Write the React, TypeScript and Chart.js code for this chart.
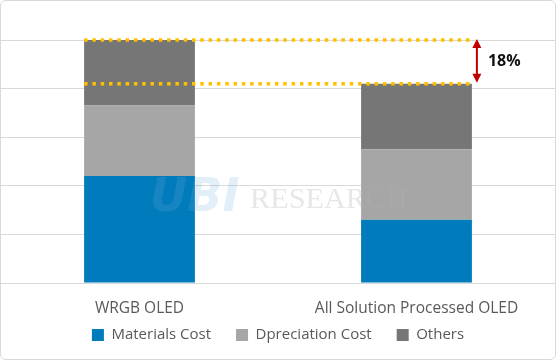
import React, { useEffect, useRef } from "react";
import { Chart, registerables } from "chart.js";

Chart.register(...registerables);

const categories = ["WRGB OLED", "All Solution Processed OLED"];
const seriesNames = ["Materials Cost", "Dpreciation Cost", "Others"];
const materialsCost = [44, 26];
const depreciationCost = [29, 29];
const others = [27, 27];
const reductionLabel = "18%";
const watermarkLogo = "UBI";
const watermarkText = "RESEARCH";

const colors = ["#007BBB", "#A6A6A6", "#767676"];

const legendShift = {
  id: "legendShift",
  beforeDraw(chart: any) {
    const lg = chart.legend;
    const xs = chart.scales.x;
    if (lg && xs) {
      lg.top = xs.bottom - 14.5;
      lg.bottom = lg.top + 50;
    }
  },
};

const annotationPlugin = {
  id: "annotations",
  afterDatasetsDraw(chart: any) {
    const ctx = chart.ctx as CanvasRenderingContext2D;
    const yScale = chart.scales.y;
    const meta = chart.getDatasetMeta(2);
    const b0 = meta.data[0] as any;
    const b1 = meta.data[1] as any;
    const left = b0.x - b0.width / 2;
    const right = b1.x + b1.width / 2;
    const totals = categories.map((_, i) => materialsCost[i] + depreciationCost[i] + others[i]);
    const yTop = yScale.getPixelForValue(totals[0]);
    const yLow = yScale.getPixelForValue(totals[1]);

    // watermark
    ctx.save();
    ctx.fillStyle = "rgba(110,175,220,0.2)";
    ctx.font = "italic bold 46px 'DejaVu Sans'";
    ctx.textBaseline = "alphabetic";
    ctx.textAlign = "left";
    ctx.fillText(watermarkLogo, 149, 210);
    ctx.fillStyle = "rgba(175,175,175,0.3)";
    ctx.font = "30px 'Liberation Serif'";
    const w = ctx.measureText(watermarkText).width;
    const size = (30 * 158) / w;
    ctx.font = `${size}px 'Liberation Serif'`;
    ctx.fillText(watermarkText, 249, 207);
    ctx.restore();

    // dotted yellow lines
    ctx.save();
    ctx.strokeStyle = "#FFC000";
    ctx.lineWidth = 3.5;
    ctx.setLineDash([3.5, 4.8]);
    [yTop, yLow].forEach((yy) => {
      ctx.beginPath();
      ctx.moveTo(left, yy);
      ctx.lineTo(right + 1, yy);
      ctx.stroke();
    });
    ctx.restore();

    // red double arrow
    const ax = right + 5;
    ctx.save();
    ctx.strokeStyle = "#C00000";
    ctx.fillStyle = "#C00000";
    ctx.lineWidth = 2;
    ctx.beginPath();
    ctx.moveTo(ax, yTop + 6);
    ctx.lineTo(ax, yLow - 6);
    ctx.stroke();
    ctx.beginPath();
    ctx.moveTo(ax, yTop - 1);
    ctx.lineTo(ax - 4.5, yTop + 8);
    ctx.lineTo(ax + 4.5, yTop + 8);
    ctx.closePath();
    ctx.fill();
    ctx.beginPath();
    ctx.moveTo(ax, yLow - 1);
    ctx.lineTo(ax - 4.5, yLow - 10);
    ctx.lineTo(ax + 4.5, yLow - 10);
    ctx.closePath();
    ctx.fill();

    ctx.fillStyle = "#111111";
    ctx.font = "bold 16px 'Open Sans'";
    ctx.textAlign = "left";
    ctx.textBaseline = "middle";
    ctx.fillText(reductionLabel, right + 16, (yTop + yLow) / 2);
    ctx.restore();
  },
};

export default function App() {
  const canvasRef = useRef<HTMLCanvasElement | null>(null);

  useEffect(() => {
    if (!canvasRef.current) return;
    const chart = new Chart(canvasRef.current, {
      type: "bar",
      data: {
        labels: categories,
        datasets: [
          { label: seriesNames[0], data: materialsCost, backgroundColor: colors[0], borderWidth: 0 },
          { label: seriesNames[1], data: depreciationCost, backgroundColor: colors[1], borderWidth: 0 },
          { label: seriesNames[2], data: others, backgroundColor: colors[2], borderWidth: 0 },
        ],
      },
      options: {
        animation: false,
        responsive: true,
        maintainAspectRatio: false,
        datasets: { bar: { categoryPercentage: 1, barPercentage: 0.4 } },
        layout: { padding: { top: 39, bottom: -8, left: 0, right: 0 } },
        scales: {
          x: {
            stacked: true,
            grid: { display: false, drawTicks: false },
            border: { display: false },
            ticks: {
              padding: 16,
              color: "#595959",
              font: { family: "'Open Sans'", size: 15.5 },
              maxRotation: 0,
              autoSkip: false,
            },
            afterFit: (scale: any) => {
              scale.height = 34;
            },
          },
          y: {
            stacked: true,
            min: 0,
            max: 100,
            ticks: { display: false, stepSize: 20 },
            grid: { color: "#D9D9D9", drawTicks: false, lineWidth: 1 },
            border: { display: false },
          },
        },
        plugins: {
          legend: {
            position: "bottom",
            labels: {
              boxWidth: 12,
              boxHeight: 12,
              padding: 25,
              color: "#595959",
              font: { family: "'Open Sans'", size: 15 },
            },
          },
          tooltip: { enabled: false },
        },
      },
      plugins: [legendShift, annotationPlugin],
    });
    return () => chart.destroy();
  }, []);

  return (
    <div
      style={{
        position: "absolute",
        left: 0,
        top: 0,
        width: 556,
        height: 360,
        boxSizing: "border-box",
        border: "1px solid #D9D9D9",
        borderRadius: 6,
        background: "#fff",
        overflow: "hidden",
      }}
    >
      <div style={{ position: "relative", width: 554, height: 358 }}>
        <canvas ref={canvasRef} />
      </div>
    </div>
  );
}
